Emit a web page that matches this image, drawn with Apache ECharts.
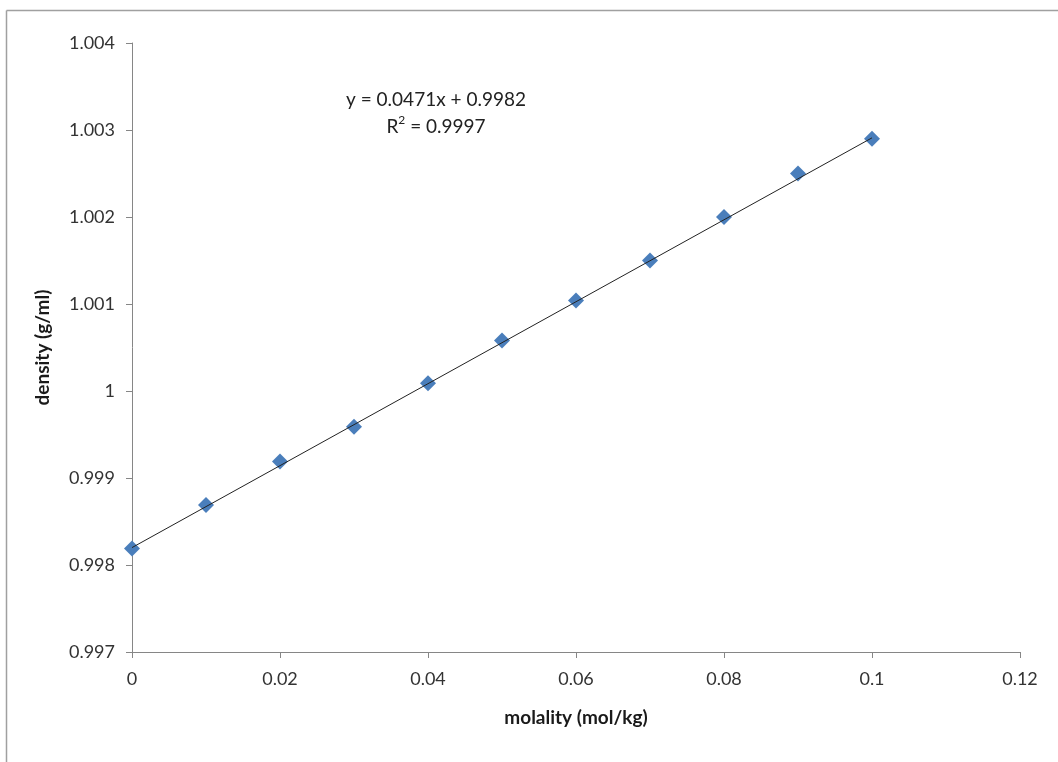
<!DOCTYPE html>
<html>
<head>
<meta charset="utf-8">
<script src="https://cdn.jsdelivr.net/npm/echarts@6/dist/echarts.min.js"></script>
<style>
html,body{margin:0;padding:0;background:#fff;}
#chart{width:1058px;height:762px;}
</style>
</head>
<body>
<div id="chart"></div>
<script>
const molality = [0, 0.01, 0.02, 0.03, 0.04, 0.05, 0.06, 0.07, 0.08, 0.09, 0.1];
const density = [0.99819, 0.99869, 0.99919, 0.99959, 1.00009, 1.00058, 1.00104, 1.0015, 1.002, 1.0025, 1.0029];
const trendSlope = 0.0471;
const trendIntercept = 0.9982;
const trendX = [0, 0.1];
const equationText = 'y = 0.0471x + 0.9982';
const r2Value = '0.9997';
const xTitle = 'molality (mol/kg)';
const yTitle = 'density (g/ml)';

const trendData = trendX.map(x => [x, trendSlope * x + trendIntercept]);
const points = molality.map((m, i) => [m, density[i]]);

const FONT = 'Lato, "Open Sans", sans-serif';
const chart = echarts.init(document.getElementById('chart'), null, {renderer: 'canvas'});
chart.setOption({
  backgroundColor: '#fff',
  animation: false,
  grid: {left: 132, right: 38, top: 43, bottom: 110, containLabel: false},
  xAxis: {
    type: 'value', min: 0, max: 0.12, interval: 0.02,
    name: xTitle, nameLocation: 'middle', nameGap: 56,
    nameTextStyle: {fontFamily: FONT, fontWeight: 'bold', fontSize: 19, color: '#1a1a1a'},
    axisLine: {lineStyle: {color: '#868686', width: 1}},
    axisTick: {show: true, length: 6, lineStyle: {color: '#868686'}},
    axisLabel: {fontFamily: FONT, fontSize: 18, color: '#333', margin: 18,
      formatter: v => String(+v.toFixed(4))},
    splitLine: {show: false}
  },
  yAxis: {
    type: 'value', min: 0.997, max: 1.004, interval: 0.001,
    name: yTitle, nameLocation: 'middle', nameGap: 80, nameRotate: 90,
    nameTextStyle: {fontFamily: FONT, fontWeight: 'bold', fontSize: 19, color: '#1a1a1a'},
    axisLine: {show: true, lineStyle: {color: '#868686', width: 1}},
    axisTick: {show: true, length: 6, lineStyle: {color: '#868686'}},
    axisLabel: {fontFamily: FONT, fontSize: 18, color: '#333', margin: 17,
      formatter: v => String(+v.toFixed(4))},
    splitLine: {show: false}
  },
  series: [
    {
      type: 'line', data: trendData, symbol: 'none', silent: true,
      lineStyle: {color: '#222', width: 1}, z: 3
    },
    {
      type: 'scatter', data: points, symbol: 'diamond', symbolSize: [16, 16],
      itemStyle: {color: '#4a7ebb', opacity: 1}, z: 2
    }
  ],
  graphic: [
    {type: 'line', shape: {x1: 6.5, y1: 10.5, x2: 1058, y2: 10.5}, style: {stroke: '#a0a0a0', lineWidth: 1.5}},
    {type: 'line', shape: {x1: 6.5, y1: 10.5, x2: 6.5, y2: 762}, style: {stroke: '#a0a0a0', lineWidth: 1.5}},
    {type: 'text', x: 436, y: 100, style: {text: equationText, fontFamily: FONT, fontSize: 19, fill: '#222', align: 'center', verticalAlign: 'middle'}},
    {type: 'text', x: 436, y: 125, style: {
      text: '{b|R}{s|2}{b| = ' + r2Value + '}',
      align: 'center', verticalAlign: 'middle',
      rich: {
        b: {fontFamily: FONT, fontSize: 19, fill: '#222', color: '#222', verticalAlign: 'bottom', lineHeight: 22},
        s: {fontFamily: FONT, fontSize: 12, fill: '#222', color: '#222', verticalAlign: 'top', lineHeight: 22}
      }
    }}
  ]
});
</script>
</body>
</html>
